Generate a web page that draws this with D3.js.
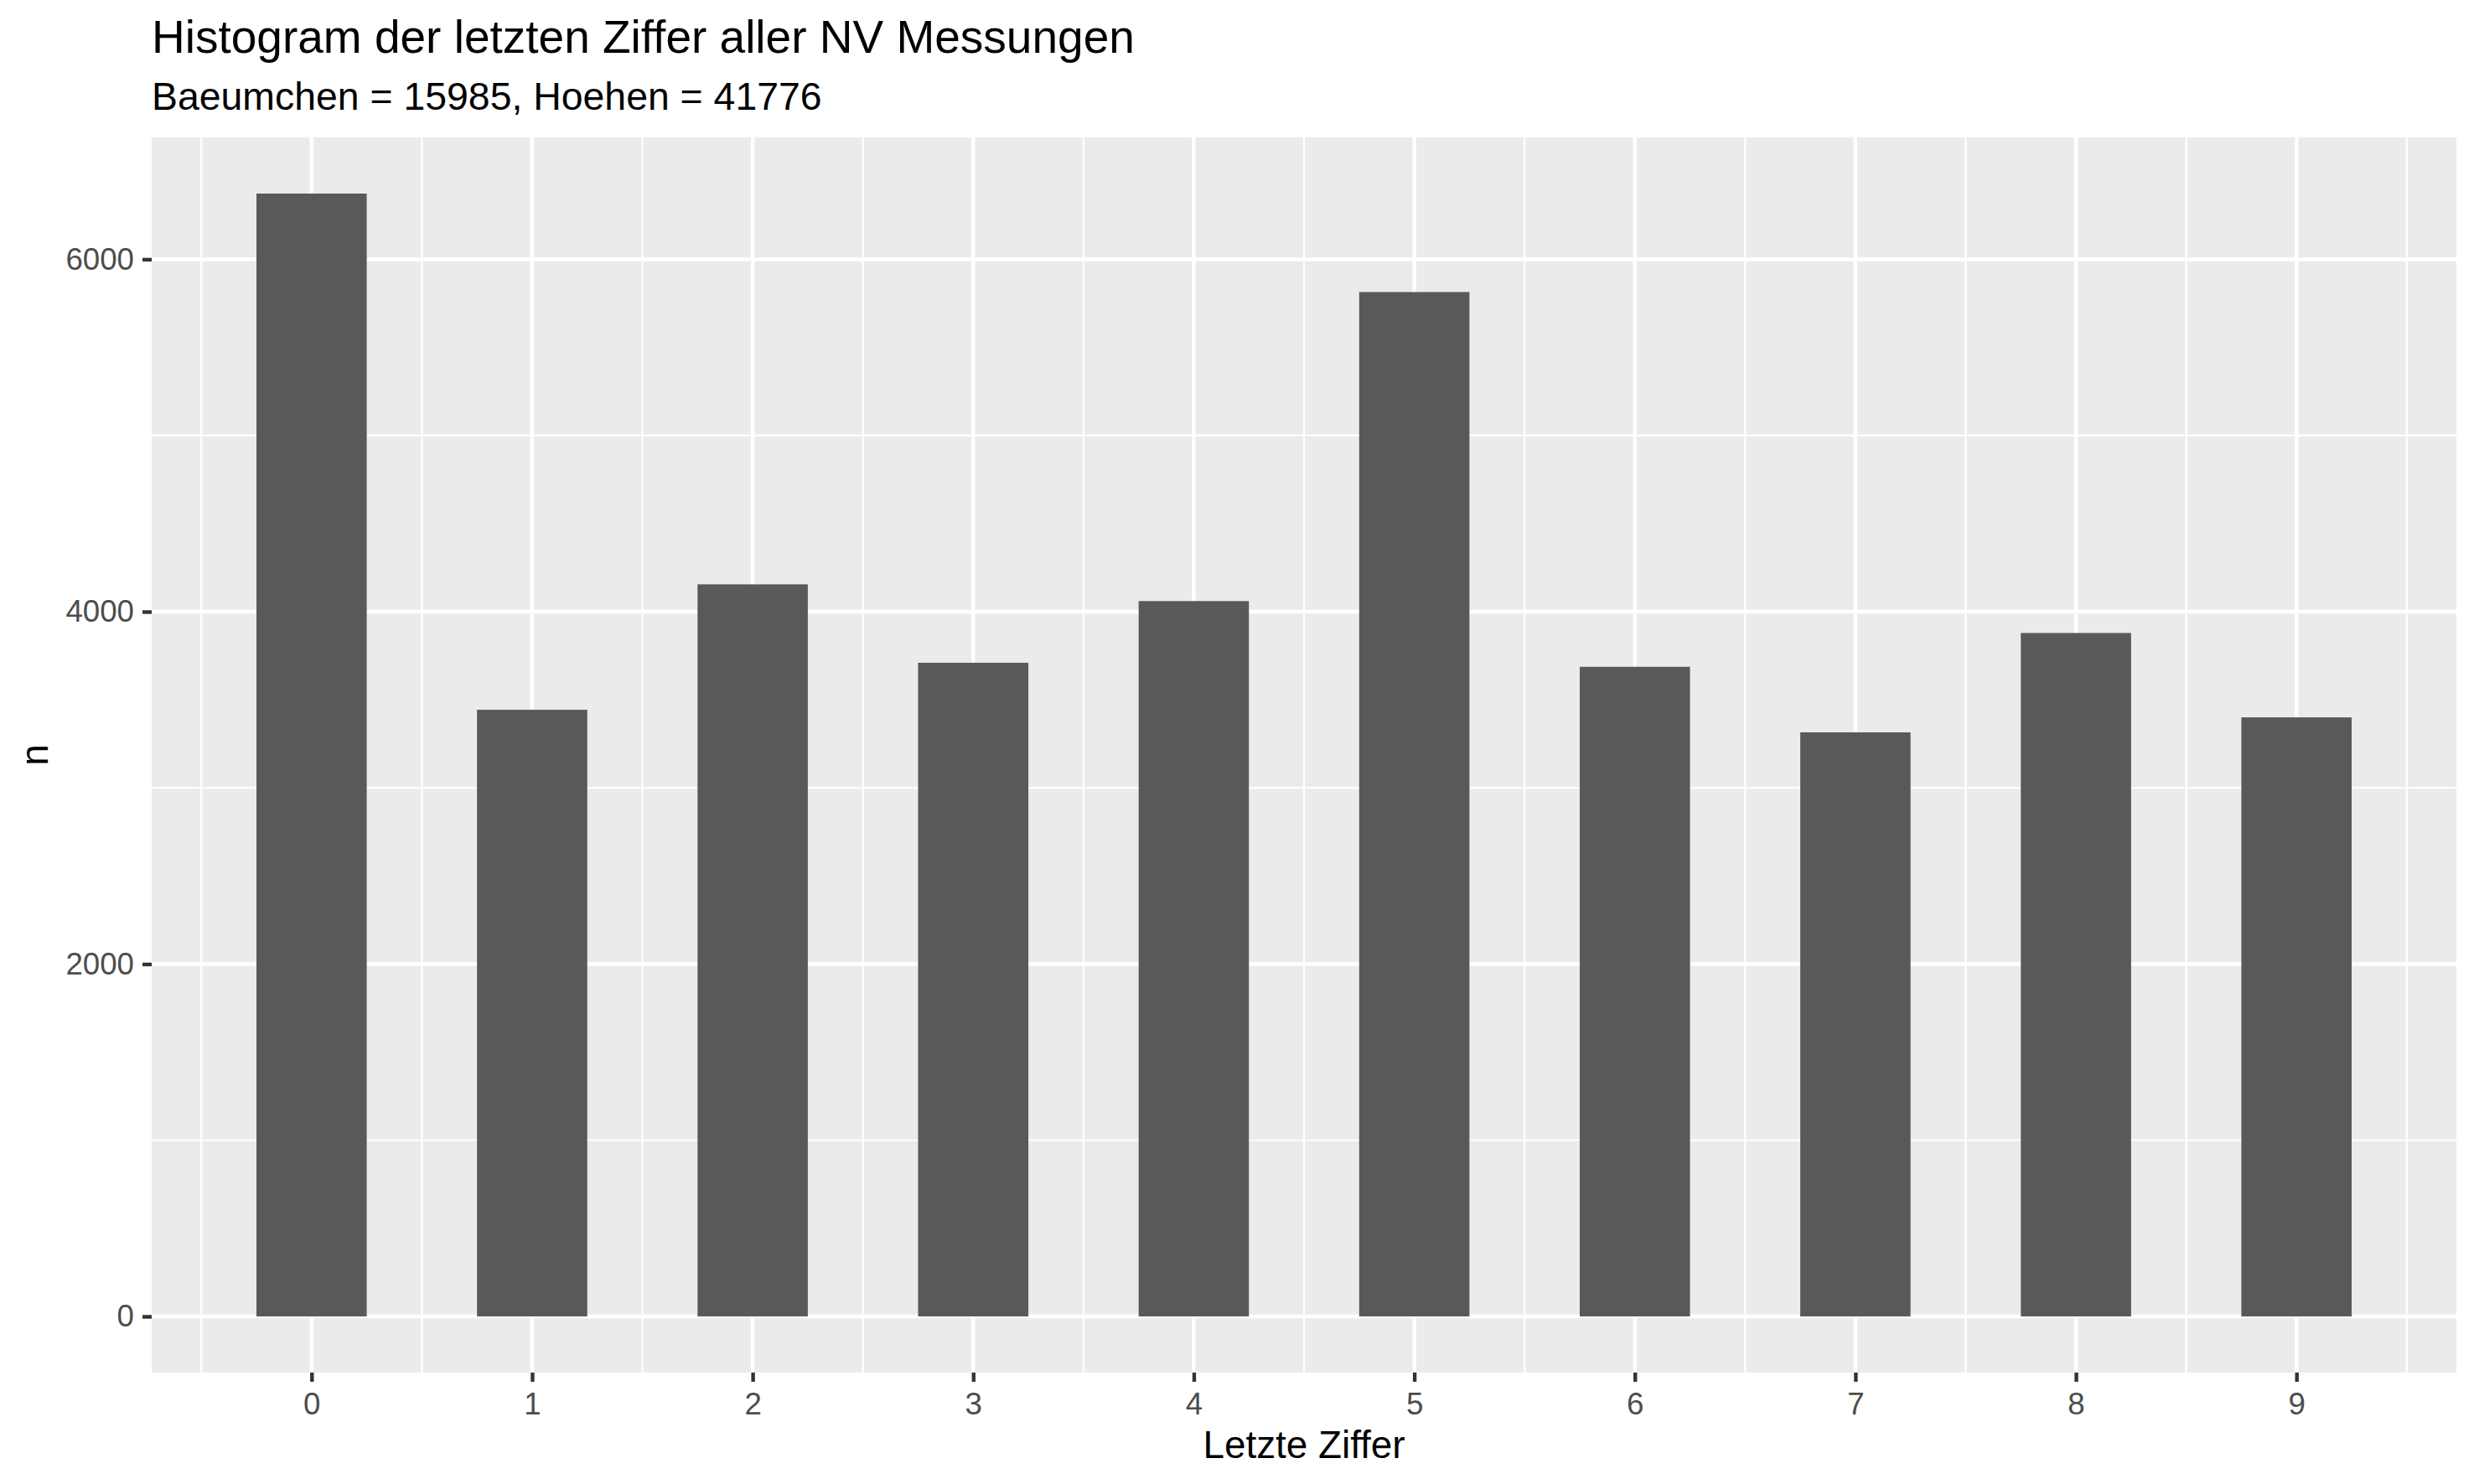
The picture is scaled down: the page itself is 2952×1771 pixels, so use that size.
<!DOCTYPE html>
<html>
<head>
<meta charset="utf-8">
<script src="https://cdn.jsdelivr.net/npm/d3@7"></script>
<style>
  body { margin: 0; background: white; }
  svg { display: block; font-family: "Liberation Sans", Arial, sans-serif; }
</style>
</head>
<body>
<svg id="chart" width="2952" height="1771"></svg>
<script>
// last digit 0..9 and how often it showed up
let digits = [0, 1, 2, 3, 4, 5, 6, 7, 8, 9];
let counts = [6373, 3443, 4155, 3710, 4060, 5814, 3687, 3315, 3879, 3400];
let yTicks = [0, 2000, 4000, 6000];
let yMinor = [1000, 3000, 5000];
let xMinor = [-0.5, 0.5, 1.5, 2.5, 3.5, 4.5, 5.5, 6.5, 7.5, 8.5, 9.5];

let titleText = "Histogram der letzten Ziffer aller NV Messungen";
let subtitleText = "Baeumchen = 15985, Hoehen = 41776";
let xLabel = "Letzte Ziffer";
let yLabel = "n";

const svg = d3.select("svg#chart");

const panel = { left: 181, right: 2931, top: 164, bottom: 1638 };
const barWidth = 0.5;

// ggplot style 5% expansion on both axes
const xlo = d3.min(digits) - barWidth / 2, xhi = d3.max(digits) + barWidth / 2;
const xpad = (xhi - xlo) * 0.05;
const x = d3.scaleLinear()
  .domain([xlo - xpad, xhi + xpad])
  .range([panel.left, panel.right]);

const ymax = d3.max(counts);
const y = d3.scaleLinear()
  .domain([-ymax * 0.05, ymax * 1.05])
  .range([panel.bottom, panel.top]);

// panel background
svg.append("rect")
  .attr("x", panel.left)
  .attr("y", panel.top)
  .attr("width", panel.right - panel.left)
  .attr("height", panel.bottom - panel.top)
  .attr("fill", "#EBEBEB");

const grid = svg.append("g");
// minor grid
for (let v of yMinor) {
  grid.append("line")
    .attr("x1", panel.left).attr("x2", panel.right)
    .attr("y1", y(v)).attr("y2", y(v))
    .attr("stroke", "white").attr("stroke-width", 2.2);
}
for (let v of xMinor) {
  grid.append("line")
    .attr("x1", x(v)).attr("x2", x(v))
    .attr("y1", panel.top).attr("y2", panel.bottom)
    .attr("stroke", "white").attr("stroke-width", 2.2);
}
// major grid
for (let v of yTicks) {
  grid.append("line")
    .attr("x1", panel.left).attr("x2", panel.right)
    .attr("y1", y(v)).attr("y2", y(v))
    .attr("stroke", "white").attr("stroke-width", 4.4);
}
for (let v of digits) {
  grid.append("line")
    .attr("x1", x(v)).attr("x2", x(v))
    .attr("y1", panel.top).attr("y2", panel.bottom)
    .attr("stroke", "white").attr("stroke-width", 4.4);
}

// bars
svg.append("g")
  .selectAll("rect")
  .data(digits)
  .join("rect")
  .attr("x", (d) => x(d - barWidth / 2))
  .attr("y", (d, i) => y(counts[i]))
  .attr("width", (d) => x(d + barWidth / 2) - x(d - barWidth / 2))
  .attr("height", (d, i) => y(0) - y(counts[i]))
  .attr("fill", "#595959");

// axes
const xAxis = svg.append("g")
  .attr("transform", "translate(0," + panel.bottom + ")")
  .call(d3.axisBottom(x).tickValues(digits).tickFormat(d3.format("d")).tickSize(11).tickPadding(10));

const yAxis = svg.append("g")
  .attr("transform", "translate(" + panel.left + ",0)")
  .call(d3.axisLeft(y).tickValues(yTicks).tickFormat(d3.format("d")).tickSize(11).tickPadding(10));

for (let ax of [xAxis, yAxis]) {
  ax.select(".domain").remove();
  ax.selectAll(".tick line").attr("stroke", "#333333").attr("stroke-width", 4.4);
  ax.selectAll(".tick text")
    .attr("fill", "#4D4D4D")
    .style("font-size", "36.7px")
    .style("font-family", '"Liberation Sans", Arial, sans-serif');
}
xAxis.selectAll(".tick text").attr("dy", null).attr("y", null)
  .attr("dominant-baseline", "alphabetic")
  .attr("transform", "translate(0,50)");

// titles
svg.append("text")
  .attr("x", panel.left).attr("y", 63)
  .attr("font-size", 55)
  .attr("fill", "black")
  .text(titleText);

svg.append("text")
  .attr("x", panel.left).attr("y", 131)
  .attr("font-size", 46.4)
  .attr("fill", "black")
  .text(subtitleText);

svg.append("text")
  .attr("x", (panel.left + panel.right) / 2).attr("y", 1740)
  .attr("text-anchor", "middle")
  .attr("font-size", 45.8)
  .attr("fill", "black")
  .text(xLabel);

svg.append("text")
  .attr("transform", "translate(57," + (panel.top + panel.bottom) / 2 + ") rotate(-90)")
  .attr("text-anchor", "middle")
  .attr("font-size", 45.8)
  .attr("fill", "black")
  .text(yLabel);
</script>
</body>
</html>
